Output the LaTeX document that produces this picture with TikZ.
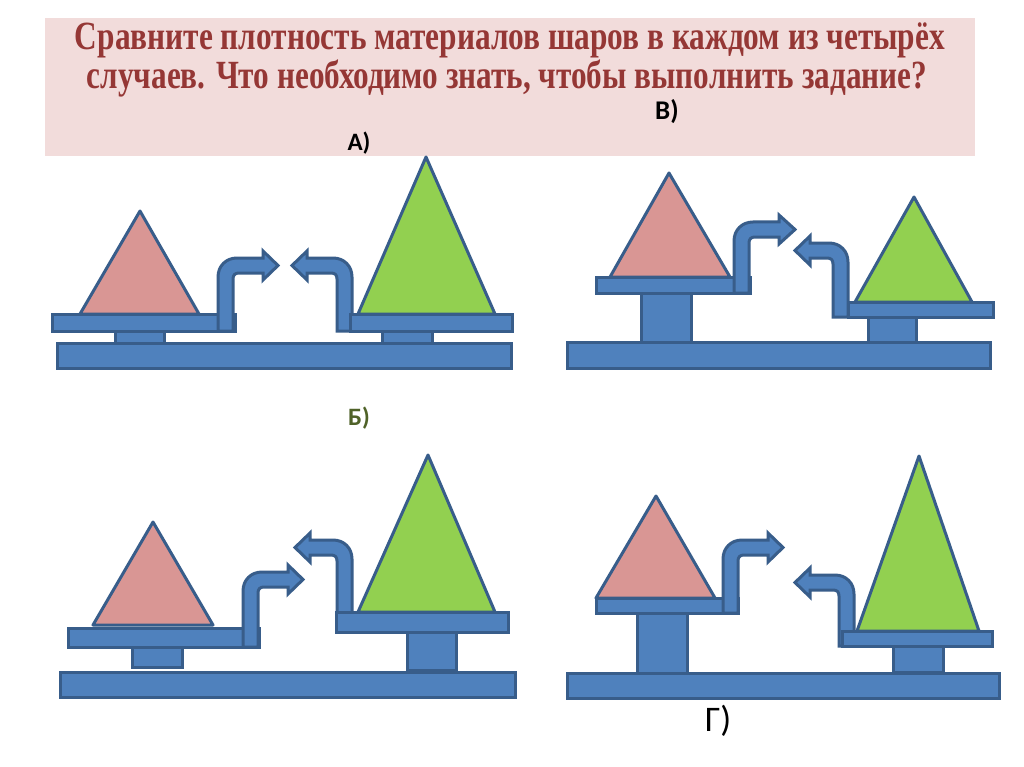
\documentclass[tikz,border=0pt]{standalone}
\usepackage{fontspec}
\setmainfont{Liberation Serif}
\newfontfamily\labfont{Carlito}
\usepackage{graphicx}
\definecolor{boxpink}{HTML}{F2DCDB}
\definecolor{titlered}{HTML}{953735}
\definecolor{bfill}{HTML}{4F81BD}
\definecolor{bline}{HTML}{385D8A}
\definecolor{pinkfill}{HTML}{D99694}
\definecolor{greenfill}{HTML}{92D050}
\definecolor{labgreen}{HTML}{4F6228}
\tikzset{
  blk/.style={fill=bfill,draw=bline,line width=3pt},
  pinktri/.style={fill=pinkfill,draw=bline,line width=3pt,line join=round},
  greentri/.style={fill=greenfill,draw=bline,line width=3pt,line join=round},
  lab/.style={font=\labfont\bfseries\fontsize{25}{27}\selectfont,inner sep=0pt}
}
% right-pointing bent arrow: x0 (stem outer left), yb, yt (outer top), xh (head base), xt (tip)
\newcommand{\arrowRight}[5]{%
\filldraw[blk] (#1,#2) -- (#1,{#3+19}) .. controls (#1,{#3+8}) and ({#1+8},#3) .. ({#1+19},#3)
  -- (#4,#3) -- (#4,{#3-7}) -- (#5,{#3+7.5}) -- (#4,{#3+22}) -- (#4,{#3+15})
  -- ({#1+21},{#3+15}) .. controls ({#1+17},{#3+15}) and ({#1+15},{#3+17}) .. ({#1+15},{#3+21})
  -- ({#1+15},#2) -- cycle;}
% left-pointing bent arrow: x0 (stem outer right), yb, yt, xh, xt
\newcommand{\arrowLeft}[5]{%
\filldraw[blk] (#1,#2) -- (#1,{#3+19}) .. controls (#1,{#3+8}) and ({#1-8},#3) .. ({#1-19},#3)
  -- (#4,#3) -- (#4,{#3-7}) -- (#5,{#3+7.5}) -- (#4,{#3+22}) -- (#4,{#3+15})
  -- ({#1-21},{#3+15}) .. controls ({#1-17},{#3+15}) and ({#1-15},{#3+17}) .. ({#1-15},{#3+21})
  -- ({#1-15},#2) -- cycle;}
\begin{document}
\begin{tikzpicture}[x=1pt,y=-1pt]
\useasboundingbox (0,0) rectangle (1024,767);
\fill[white] (0,0) rectangle (1024,767);
% title box
\fill[boxpink] (45,18) rectangle (975,156);
\node[anchor=base,inner sep=0pt,text=titlered] (t1) at (510,50)
  {\resizebox{870pt}{\height}{\fontsize{40}{44}\selectfont\bfseries Сравните плотность материалов шаров в каждом из четырёх}};
\node[anchor=base,inner sep=0pt,text=titlered] (t2) at (507,89)
  {\resizebox{840pt}{\height}{\fontsize{40}{44}\selectfont\bfseries случаев. Что необходимо знать, чтобы выполнить задание?}};
\node[lab,anchor=center] (la) at (359,143) {А)};
\node[lab,anchor=center,font=\labfont\bfseries\fontsize{27}{29}\selectfont] (lv) at (667,112) {В)};
\node[lab,anchor=center,text=labgreen] (lb) at (359,418) {Б)};
\node[inner sep=0pt,anchor=center,font=\labfont\fontsize{36}{38}\selectfont] (lg) at (718,721) {Г)};

% ---------- Panel A ----------
\filldraw[blk] (57,343) rectangle (511,368);
\filldraw[blk] (115,331) rectangle (164,343);
\filldraw[blk] (382,331) rectangle (432,343);
\filldraw[blk] (52,314) rectangle (235,331);
\arrowRight{218}{331}{258}{263}{278}
\arrowLeft{352}{331}{258}{307}{292}
\filldraw[blk] (350,314) rectangle (512,331);
\filldraw[pinktri] (140,211) -- (80,314) -- (199,314) -- cycle;
\filldraw[greentri] (426,157) -- (358,314) -- (495,314) -- cycle;

% ---------- Panel V ----------
\filldraw[blk] (567,342) rectangle (990,368);
\filldraw[blk] (641,293) rectangle (691,342);
\filldraw[blk] (868,317) rectangle (916,342);
\filldraw[blk] (596,277) rectangle (750,293);
\arrowRight{734}{293}{222}{779}{795}
\arrowLeft{848}{317}{243}{810}{795}
\filldraw[blk] (848,302) rectangle (993,317);
\filldraw[pinktri] (669,173) -- (610,277) -- (730,277) -- cycle;
\filldraw[greentri] (914,197) -- (855,302) -- (972,302) -- cycle;

% ---------- Panel B ----------
\filldraw[blk] (60,672) rectangle (515,697);
\filldraw[blk] (132,647) rectangle (182,667);
\filldraw[blk] (407,632) rectangle (456,670);
\filldraw[blk] (68,628) rectangle (259,647);
\arrowRight{243}{647}{572}{288}{303}
\arrowLeft{352}{631}{540}{310}{295}
\filldraw[blk] (336,612) rectangle (508,632);
\filldraw[pinktri] (153,522) -- (93,625) -- (213,625) -- cycle;
\filldraw[greentri] (428,455) -- (358,612) -- (495,612) -- cycle;

% ---------- Panel G ----------
\filldraw[blk] (567,673) rectangle (999,698);
\filldraw[blk] (637,613) rectangle (687,673);
\filldraw[blk] (893,646) rectangle (943,672);
\filldraw[blk] (596,598) rectangle (738,613);
\arrowRight{723}{613}{540}{768}{783}
\arrowLeft{854}{646}{575}{810}{795}
\filldraw[blk] (842,631) rectangle (992,646);
\filldraw[pinktri] (656,496) -- (596,598) -- (715,598) -- cycle;
\filldraw[greentri] (919,456) -- (857,631) -- (979,631) -- cycle;
\end{tikzpicture}
\end{document}
